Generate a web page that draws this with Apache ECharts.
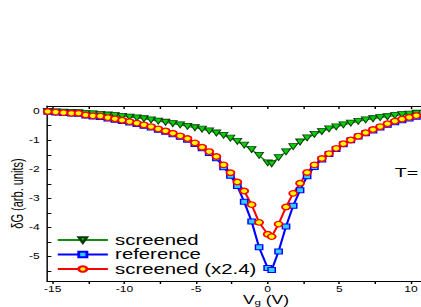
<!DOCTYPE html>
<html><head><meta charset="utf-8">
<script src="https://cdn.jsdelivr.net/npm/echarts@6/dist/echarts.min.js"></script>
<style>
html,body{margin:0;padding:0;background:#fff;overflow:hidden}
#wrap{width:421px;height:307px;overflow:hidden;position:relative}
#c{width:290px;height:307px;transform:scaleX(1.4517);transform-origin:0 0}
</style>
</head><body><div id="wrap"><div id="c"></div></div>
<script>
// Gate voltage (V) of the measured points
const vg = [-15.35,-14.8,-14.25,-13.7,-13.2,-12.7,-12.2,-11.68,-11.16,-10.66,-10.16,-9.64,-9.13,-8.64,-8.14,-7.64,-7.13,-6.62,-6.11,-5.6,-5.08,-4.58,-4.08,-3.58,-3.08,-2.6,-2.12,-1.64,-1.12,-0.6,0.0,0.28,0.76,1.28,1.78,2.26,2.75,3.26,3.78,4.28,4.78,5.28,5.8,6.32,6.84,7.35,7.85,8.36,8.88,9.38,9.88,10.38,10.88];
// δG (arb. units)
const screened = [-0.01,-0.02,-0.03,-0.04,-0.05,-0.08,-0.09,-0.11,-0.13,-0.15,-0.18,-0.20,-0.23,-0.26,-0.30,-0.34,-0.38,-0.43,-0.47,-0.52,-0.57,-0.62,-0.68,-0.75,-0.83,-0.93,-1.04,-1.17,-1.32,-1.52,-1.78,-1.81,-1.60,-1.40,-1.22,-1.06,-0.92,-0.80,-0.70,-0.61,-0.54,-0.47,-0.41,-0.35,-0.30,-0.26,-0.22,-0.19,-0.15,-0.12,-0.10,-0.07,-0.05];
const reference = [-0.02,-0.04,-0.06,-0.08,-0.09,-0.15,-0.18,-0.20,-0.25,-0.29,-0.34,-0.39,-0.44,-0.50,-0.56,-0.64,-0.71,-0.79,-0.88,-0.98,-1.13,-1.28,-1.44,-1.62,-1.93,-2.22,-2.58,-3.12,-3.80,-4.69,-5.40,-5.47,-4.83,-3.97,-3.26,-2.72,-2.24,-1.92,-1.66,-1.47,-1.30,-1.14,-1.00,-0.87,-0.76,-0.66,-0.56,-0.47,-0.38,-0.31,-0.25,-0.19,-0.14];
const screenedX24 = [-0.01,-0.03,-0.05,-0.07,-0.07,-0.13,-0.16,-0.17,-0.22,-0.26,-0.31,-0.36,-0.41,-0.47,-0.53,-0.61,-0.68,-0.76,-0.85,-0.94,-1.09,-1.24,-1.39,-1.56,-1.85,-2.12,-2.44,-2.75,-3.22,-3.83,-4.24,-4.32,-3.89,-3.30,-2.83,-2.48,-2.11,-1.85,-1.63,-1.46,-1.28,-1.12,-0.99,-0.86,-0.74,-0.63,-0.53,-0.43,-0.34,-0.27,-0.21,-0.15,-0.11];
const seriesNames = ['screened','reference','screened (x2.4)'];
const xLabels = [-15,-10,-5,0,5,10];
const xTickVals = [-15,-12.5,-10,-7.5,-5,-2.5,0,2.5,5,7.5,10];
const yLabels = [0,-1,-2,-3,-4,-5];
const yTickVals = [0,-0.5,-1,-1.5,-2,-2.5,-3,-3.5,-4,-4.5,-5,-5.5];

const FONT = 'Liberation Sans, Arial, sans-serif';
const pairs = ys => vg.map((x,i)=>[x, ys[i]]);

const chart = echarts.init(document.getElementById('c'), null, {renderer:'svg'});
chart.setOption({
  animation:false,
  backgroundColor:'#fff',
  grid:{left:32.4,right:0,top:106,bottom:26,containLabel:false,outerBoundsMode:'none'},
  xAxis:[{
    type:'value',position:'bottom',min:-15.4,max:10.7,
    axisLine:{show:true,onZero:false,lineStyle:{color:'#000',width:1}},
    axisTick:{show:true,inside:false,length:3,customValues:xTickVals,lineStyle:{color:'#000'}},
    axisLabel:{customValues:xLabels,fontSize:8.3,lineHeight:8.5,color:'#000',margin:3.5,fontFamily:FONT},
    splitLine:{show:false},
    name:'V{s|g} (V)',nameLocation:'middle',nameGap:13,nameMoveOverlap:false,
    nameTextStyle:{fontSize:12,lineHeight:12,color:'#000',fontFamily:FONT,padding:[0,0,0,44],
      rich:{s:{fontSize:8,lineHeight:8,fontFamily:FONT,color:'#000',padding:[4,0,0,0]}}}
  },{
    type:'value',position:'top',min:-15.4,max:10.7,
    axisLine:{show:true,onZero:false,lineStyle:{color:'#000',width:1}},
    axisTick:{show:true,inside:true,length:3,customValues:xTickVals,lineStyle:{color:'#000'}},
    axisLabel:{show:false},splitLine:{show:false}
  }],
  yAxis:[{
    type:'value',min:-5.85,max:0.18,
    axisLine:{show:true,onZero:false,lineStyle:{color:'#000',width:1}},
    axisTick:{show:true,inside:true,length:3,customValues:yTickVals,lineStyle:{color:'#000'}},
    axisLabel:{customValues:yLabels,fontSize:8.3,color:'#000',margin:5,fontFamily:FONT},
    splitLine:{show:false},
    name:'δG (arb. units)',nameLocation:'middle',nameGap:15,nameMoveOverlap:false,
    nameTextStyle:{fontSize:11,color:'#000',fontFamily:FONT}
  }],
  legend:{
    orient:'vertical',left:33.8,top:228,itemWidth:34.5,itemHeight:7,itemGap:0.5,
    selectedMode:false,data:seriesNames,padding:[5,5,5,5],
    textStyle:{fontSize:14,lineHeight:14,color:'#000',fontFamily:FONT}
  },
  graphic:[{type:'text',left:272,top:166,style:{text:'T=',fontSize:13.5,fill:'#000',fontFamily:FONT}}],
  series:[{
    name:seriesNames[0],type:'line',data:pairs(screened),
    symbol:'triangle',symbolRotate:180,symbolSize:6,
    lineStyle:{color:'#118c11',width:1.2},
    itemStyle:{color:'#00d000',borderColor:'#0b3b0b',borderWidth:0.8}
  },{
    name:seriesNames[1],type:'line',data:pairs(reference),
    symbol:'rect',symbolSize:5,
    lineStyle:{color:'#0000ff',width:1.5},
    itemStyle:{color:'#33ccff',borderColor:'#0000ff',borderWidth:1}
  },{
    name:seriesNames[2],type:'line',data:pairs(screenedX24),
    symbol:'circle',symbolSize:5.5,
    lineStyle:{color:'#ff0000',width:1.5},
    itemStyle:{color:'#ffff00',borderColor:'#ff0000',borderWidth:1.3}
  }]
});
</script></body></html>
